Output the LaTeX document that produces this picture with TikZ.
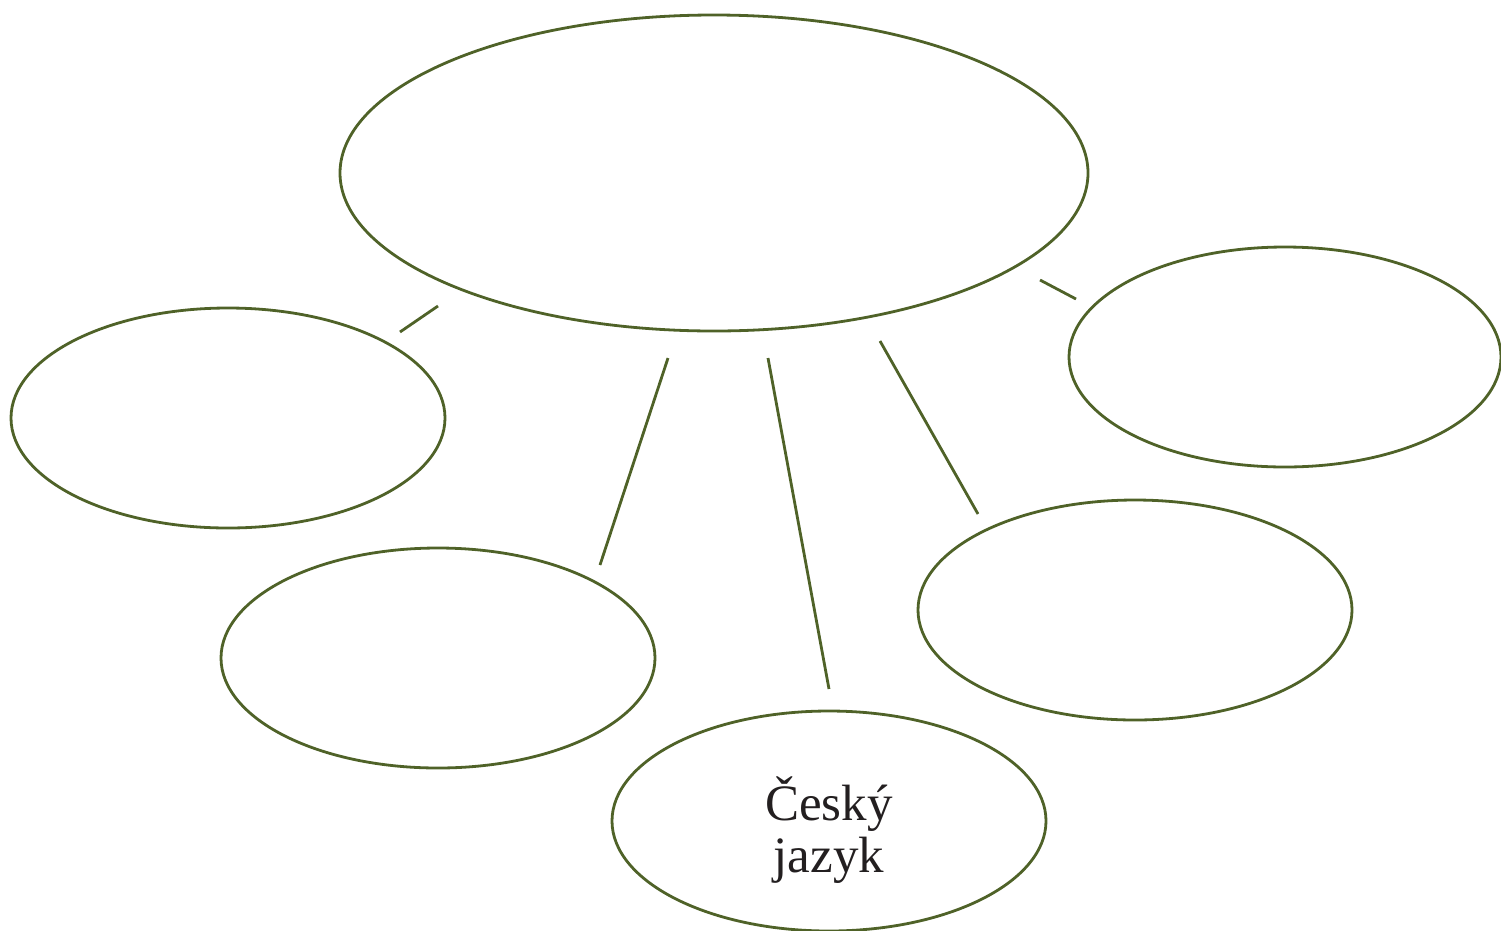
\documentclass[tikz,border=0pt]{standalone}
\usepackage{fontspec}
\setmainfont{Liberation Serif}
\usetikzlibrary{shapes.geometric}
\definecolor{olive}{HTML}{4F6228}
\definecolor{txt}{HTML}{231F20}
\begin{document}
\begin{tikzpicture}[x=1pt,y=-1pt,
  bubble/.style={draw=olive,line width=2.8pt,ellipse,inner sep=0pt,
    minimum width=434pt,minimum height=220pt},
  link/.style={draw=olive,line width=2.8pt}]
\useasboundingbox (0,0) rectangle (1501,930);
\node[bubble,minimum width=748pt,minimum height=316pt] (top) at (714,173) {};
\node[bubble] (left) at (228,418) {};
\node[bubble] (lowleft) at (438,658) {};
\node[bubble] (bottom) at (829,821) {};
\node[text=txt,font=\fontsize{51}{52}\selectfont,align=center] (label) at (829,830) {Český\\jazyk};
\node[bubble] (lowright) at (1135,610) {};
\node[bubble,minimum width=432pt] (right) at (1285,357) {};
\coordinate (a1) at (438,306); \coordinate (a2) at (400,332);
\coordinate (b1) at (668,358); \coordinate (b2) at (600,565);
\coordinate (c1) at (768,358); \coordinate (c2) at (829,689);
\coordinate (d1) at (880,341); \coordinate (d2) at (978,514);
\coordinate (e1) at (1040,280); \coordinate (e2) at (1076,299);
\draw[link] (a1) -- (a2);
\draw[link] (b1) -- (b2);
\draw[link] (c1) -- (c2);
\draw[link] (d1) -- (d2);
\draw[link] (e1) -- (e2);
\end{tikzpicture}
\end{document}
